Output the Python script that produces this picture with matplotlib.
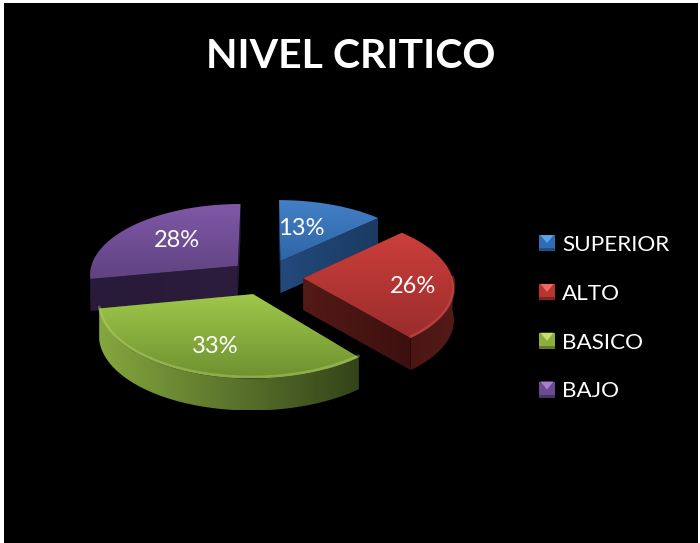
import numpy as np
import matplotlib
matplotlib.use("Agg")
import matplotlib.pyplot as plt
from matplotlib.patches import Polygon, Rectangle
from matplotlib.legend_handler import HandlerBase
from matplotlib.colors import to_rgb

title = "NIVEL CRITICO"
categories = ["SUPERIOR", "ALTO", "BASICO", "BAJO"]
values = [13, 26, 33, 28]
labels = ["13%", "26%", "33%", "28%"]

label_xy = [(301, 228.5), (413, 286.5), (215, 346.5), (177, 240.5)]
top_colors = [("#4280c8", "#2f65a6"), ("#cc3f3b", "#9a2c2c"), ("#9fc84b", "#6f9130"), ("#8058a8", "#5f4380")]
rim_colors = [("#1e3e68", "#1e3e68"), ("#4a1614", "#541a17"), ("#84a63e", "#34441a"), ("#2a1a3c", "#2a1a3c")]
wall_colors = [("#234a7c", "#1a3a62"), ("#541a17", "#3c100f"), ("#3c4e1c", "#3c4e1c"), ("#281a38", "#2c1c3e")]
bevel_colors = ["#5a96da", "#e2625c", "#c4de7c", "#9a76c2"]
legend_main = ["#2f6cb4", "#b83432", "#8cae3e", "#6a4a90"]
legend_light = ["#5aa6ea", "#ea6a64", "#c8e070", "#a680d0"]
legend_dark = ["#224e84", "#7e2422", "#62792c", "#483264"]

# projection settings (pixels)
CX, CY, A, B, K, DEPTH, EXPLODE = 266, 277, 149, 71, 0.11, 32, 0.25


def project(x, y, z=0.0):
    s = 1.0 / (1.0 + K * y)
    return CX + A * x * s, CY - B * y * s + z


fig = plt.figure(figsize=(7.0, 5.43), dpi=100, facecolor="white")
ax = fig.add_axes([0, 0, 1, 1])
ax.axis("off")
ax.add_patch(Rectangle((4, 3), 694, 541, facecolor="black", edgecolor="none", zorder=0))


def grad_fill(poly, c0, c1, horizontal, zorder):
    """Fill a polygon with a linear gradient through a clipped image."""
    poly = np.asarray(poly)
    x0, x1 = poly[:, 0].min(), poly[:, 0].max()
    y0, y1 = poly[:, 1].min(), poly[:, 1].max()
    t = np.linspace(0, 1, 64)
    rgb = np.outer(1 - t, to_rgb(c0)) + np.outer(t, to_rgb(c1))
    img = rgb[None, :, :] if horizontal else rgb[:, None, :]
    im = ax.imshow(img, extent=(x0, x1, y1, y0), aspect="auto", origin="upper",
                   interpolation="bilinear", zorder=zorder)
    clip = Polygon(poly, closed=True, transform=ax.transData, facecolor="none", edgecolor="none")
    ax.add_patch(clip)
    im.set_clip_path(clip)


fractions = np.array(values) / sum(values)
ends = np.cumsum(fractions) * 2 * np.pi
starts = ends - fractions * 2 * np.pi
draw_order = [3, 0, 1, 2]
z = 2
for i in draw_order:
    t0, t1 = starts[i], ends[i]
    mid = (t0 + t1) / 2
    ox, oy = EXPLODE * np.sin(mid), EXPLODE * np.cos(mid)
    ts = np.linspace(t0, t1, 120)
    ax_x, ax_y = ox + np.sin(ts), oy + np.cos(ts)
    top_arc = np.column_stack(project(ax_x, ax_y))
    bot_arc = np.column_stack(project(ax_x, ax_y, DEPTH))
    apex = np.array(project(ox, oy))
    apex_b = np.array(project(ox, oy, DEPTH))
    # cut walls
    for k in (0, -1):
        wall = [apex, top_arc[k], bot_arc[k], apex_b]
        grad_fill(wall, wall_colors[i][0], wall_colors[i][1], True, z)
        z += 1
    # outer rim, only the part facing the viewer
    front = np.cos(ts) < 0.0
    if front.sum() > 2:
        rim = np.vstack([top_arc[front], bot_arc[front][::-1]])
        grad_fill(rim, rim_colors[i][0], rim_colors[i][1], True, z)
        z += 1
    # top face
    face = np.vstack([[apex], top_arc])
    grad_fill(face, top_colors[i][0], top_colors[i][1], False, z)
    z += 1
    # bevel along the front edge
    if i in (1, 2):
        edge = top_arc[front]
        ax.plot(edge[:, 0], edge[:, 1] - 1.5, color=bevel_colors[i], lw=2.0, alpha=0.35,
                zorder=z, solid_capstyle="round")
        z += 1

FONT = "Lato"
ax.text(351, 57, title, color="white", fontsize=29.5, fontweight="bold", family=FONT,
        ha="center", va="center", zorder=z + 1)
for (lx, ly), txt in zip(label_xy, labels):
    ax.text(lx, ly, txt, color="white", fontsize=17, family=FONT, ha="center", va="center", zorder=z + 1)


class BevelHandler(HandlerBase):
    def create_artists(self, legend, orig, xd, yd, w, h, fontsize, trans):
        i = int(orig.get_gid())
        s = 16 * 0.72  # points
        x0, y0 = -xd, -yd + (h - s) / 2
        cx, cy = x0 + s / 2, y0 + s * 0.5
        base = Rectangle((x0, y0), s, s, facecolor=legend_main[i], edgecolor="none", transform=trans)
        light = Polygon([(x0 + 1, y0 + s), (x0 + s - 1, y0 + s), (cx, cy)], closed=True,
                        facecolor=legend_light[i], edgecolor="none", transform=trans)
        dark = Rectangle((x0, y0), s, s * 0.18, facecolor=legend_dark[i], edgecolor="none", transform=trans)
        return [base, light, dark]


handles = [Rectangle((0, 0), 1, 1, gid=str(i)) for i in range(len(categories))]
leg = ax.legend(handles, categories, handler_map={Rectangle: BevelHandler()},
                loc="upper left", bbox_to_anchor=(539 / 700, 1 - 235 / 543), frameon=False,
                prop={"family": FONT, "size": 16.2}, labelcolor="white",
                handlelength=0.71, handletextpad=0.32, labelspacing=1.28, borderpad=0, borderaxespad=0)
leg.set_zorder(z + 1)

ax.set_xlim(0, 700)
ax.set_ylim(543, 0)
fig.savefig("out.png", dpi=100, facecolor="white")
